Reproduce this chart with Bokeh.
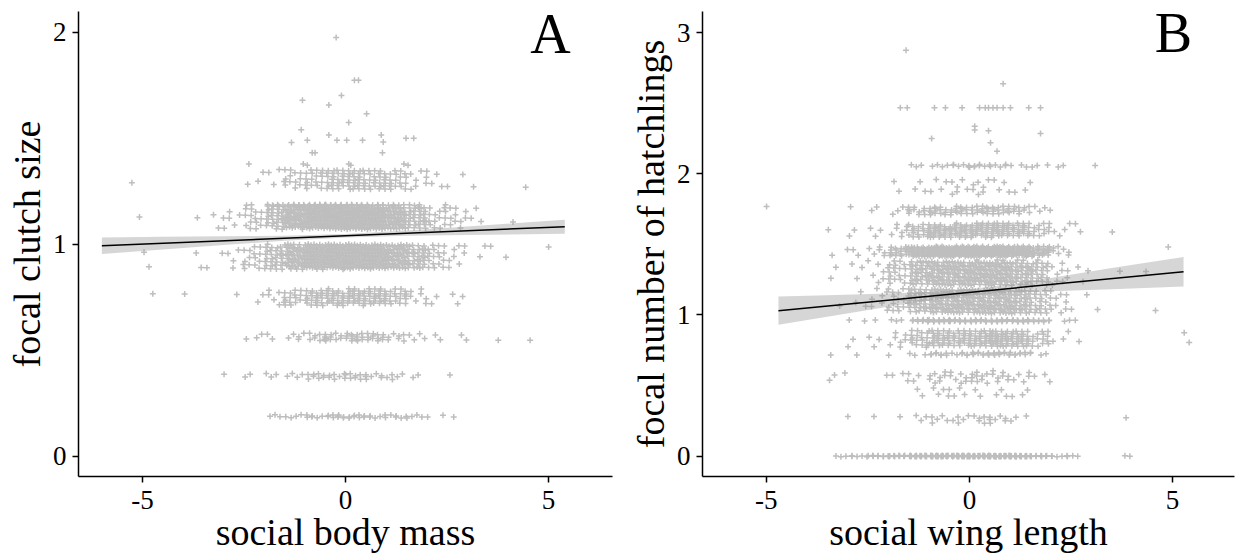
from bokeh.plotting import figure
from bokeh.layouts import row
from bokeh.models import Range1d, FixedTicker, Label
from bokeh.embed import file_html
from bokeh.resources import INLINE

FONT = "Liberation Serif"
PT_COLOR = "#BEBEBE"

# ---------------- shared x bins (width 0.5) ----------------
x_bins = [-6.0, -5.5, -5.0, -4.5, -4.0, -3.5, -3.0, -2.5, -2.0, -1.5, -1.0, -0.5,
          0.0, 0.5, 1.0, 1.5, 2.0, 2.5, 3.0, 3.5, 4.0, 4.5, 5.0, 5.5, 6.0]
x_ticks = [-5, 0, 5]
x_tick_labels = ["-5", "0", "5"]

# ---------------- Panel A: focal clutch size vs social body mass ----------------
a_row_y = [0.187, 0.376, 0.563, 0.750, 0.940, 1.125, 1.184, 1.305]
a_row_half = [0.008, 0.015, 0.020, 0.040, 0.060, 0.055, 0.003, 0.050]
a_row_counts = [
    [0,0,0,0,0,0,0,0,3,4,6,9,8,6,5,4,2,1,0,0,0,0,0,0],
    [0,0,0,0,0,0,1,2,3,4,8,7,8,6,5,2,0,1,0,0,0,0,0,0],
    [0,0,0,0,0,0,0,3,2,5,8,10,14,12,7,4,2,2,0,1,0,1,0,0],
    [0,0,1,0,1,0,1,2,7,14,22,25,27,25,17,7,2,3,0,0,0,0,0,0],
    [0,0,2,0,2,2,5,14,30,50,65,70,70,65,50,35,18,8,2,2,0,0,1,0],
    [0,1,0,0,1,3,5,14,30,55,70,78,78,70,50,30,14,10,3,0,1,0,0,0],
    [0,0,0,0,0,0,0,2,5,7,8,8,8,7,5,3,1,0,0,0,0,0,0,0],
    [0,1,0,0,0,0,0,3,4,12,18,25,27,22,17,7,4,2,1,0,1,0,0,0],
]
a_extra_x = [-2.38, -1.04, -0.94, 0.08, 0.13, 1.44, 1.54, -0.82, -0.75, 0.91,
             -1.33, -0.94, -0.41, -0.21, 0.03, 0.42, 0.88, 0.93, 1.49, 1.68,
             -1.09, 0.08, 0.52, -0.41, -1.06, -0.10, 0.22, 0.32, -0.23]
a_extra_y = [1.378, 1.378, 1.372, 1.378, 1.372, 1.378, 1.372, 1.432, 1.432, 1.432,
             1.480, 1.490, 1.515, 1.490, 1.490, 1.490, 1.515, 1.482, 1.500, 1.500,
             1.540, 1.574, 1.615, 1.657, 1.679, 1.702, 1.774, 1.774, 1.975]
a_fit_x = [-6.0, 5.4]
a_fit_y = [0.993, 1.082]
a_band_x = [-6.0, -4.5, -3.0, -1.5, 0.0, 1.5, 3.0, 4.5, 5.4]
a_band_lo = [0.954, 0.975, 0.996, 1.016, 1.032, 1.040, 1.043, 1.047, 1.049]
a_band_hi = [1.032, 1.035, 1.038, 1.040, 1.048, 1.064, 1.083, 1.103, 1.115]
a_y_ticks = [0, 1, 2]

# ---------------- Panel B: focal number of hatchlings vs social wing length ----------------
b_row_y = [0.000, 0.260, 0.450, 0.560, 0.724, 0.830, 0.958, 1.100, 1.300, 1.450, 1.600, 1.740, 1.900, 2.055]
b_row_half = [0.004, 0.030, 0.040, 0.045, 0.010, 0.060, 0.008, 0.090, 0.090, 0.035, 0.050, 0.030, 0.060, 0.012]
b_row_counts = [
    [0,0,0,0,0,3,5,8,12,20,25,25,25,25,20,10,6,2,0,2,0,0,0,0],
    [0,0,0,0,0,0,1,1,1,3,5,5,6,6,3,0,0,0,0,1,0,0,0,0],
    [0,0,0,0,0,0,0,0,0,2,4,4,2,3,3,0,0,0,0,0,0,0,0,0],
    [0,0,0,0,0,3,0,1,3,3,8,7,10,8,5,3,0,0,0,0,0,0,0,0],
    [0,0,0,0,0,1,1,0,1,3,8,6,10,10,8,3,0,0,0,0,0,0,0,0],
    [0,0,0,0,0,0,2,3,7,18,27,22,27,34,27,14,3,1,0,0,0,0,2,0],
    [0,0,0,0,0,0,2,1,3,10,12,12,12,12,12,8,2,1,0,0,0,0,0,0],
    [0,0,0,0,0,1,3,7,15,32,45,45,45,45,38,22,9,2,1,0,0,1,0,0],
    [0,0,0,0,0,2,3,7,18,35,45,45,48,48,38,26,9,3,0,1,1,0,0,0],
    [0,0,0,0,0,2,2,6,18,38,50,50,50,50,42,24,7,0,0,0,0,1,0,0],
    [0,0,0,0,0,1,2,3,7,18,27,27,30,30,22,12,4,2,0,1,0,0,0,0],
    [0,0,1,0,0,0,1,2,4,10,14,14,14,14,10,4,0,0,0,0,0,0,0,0],
    [0,0,0,0,0,0,0,0,2,3,4,6,7,4,3,0,0,0,0,0,0,0,0,0],
    [0,0,0,0,0,0,0,0,0,3,4,6,7,5,3,3,2,0,1,0,0,0,0,0],
]
b_extra_x = [-1.70, -1.53, -0.86, -0.59, -0.18, 0.25, 0.39, 0.47, 0.58, 0.68, 0.83, 1.01,
             1.46, 1.75, 0.13, 0.13, 0.47, 1.75, -0.93, 0.52, 0.68, 0.83, -1.56]
b_extra_y = [2.467, 2.467, 2.467, 2.467, 2.467, 2.467, 2.467, 2.467, 2.467, 2.467, 2.467, 2.467,
             2.467, 2.467, 2.336, 2.310, 2.305, 2.285, 2.250, 2.220, 2.160, 2.637, 2.875]
b_fit_x = [-4.7, 5.27]
b_fit_y = [1.030, 1.306]
b_band_x = [-4.7, -3.5, -2.0, -1.0, 0.0, 1.0, 2.0, 3.5, 5.27]
b_band_lo = [0.930, 0.987, 1.058, 1.102, 1.138, 1.158, 1.168, 1.182, 1.201]
b_band_hi = [1.130, 1.139, 1.152, 1.162, 1.182, 1.218, 1.262, 1.332, 1.411]
b_y_ticks = [0, 1, 2, 3]


def spread_points(row_y, row_half, row_counts, extra_x, extra_y):
    """Place each binned count inside its bin / row band (deterministic R2 fill)."""
    g1, g2 = 0.7548776662466927, 0.5698402909980532
    xs, ys = [], []
    for r, (yc, h, counts) in enumerate(zip(row_y, row_half, row_counts)):
        for i, n in enumerate(counts):
            lo, hi = x_bins[i], x_bins[i + 1]
            for k in range(n):
                s = k + 7 * i + 13 * r
                u = (0.5 + g1 * s) % 1.0
                v = (0.5 + g2 * s) % 1.0
                xs.append(lo + (hi - lo) * u)
                ys.append(yc + h * (2 * v - 1))
    xs += list(extra_x)
    ys += list(extra_y)
    return xs, ys


def style(p, yticks, xlabel, ylabel):
    p.xaxis.axis_label = xlabel
    p.yaxis.axis_label = ylabel
    p.xaxis.ticker = FixedTicker(ticks=x_ticks)
    p.yaxis.ticker = FixedTicker(ticks=yticks)
    p.xaxis.major_label_overrides = {t: s for t, s in zip(x_ticks, x_tick_labels)}
    for ax in (p.xaxis[0], p.yaxis[0]):
        ax.axis_line_color = "black"
        ax.axis_line_width = 1.5
        ax.major_tick_line_color = "black"
        ax.major_tick_line_width = 1.5
        ax.major_tick_in = 0
        ax.major_tick_out = 6
        ax.minor_tick_line_color = None
        ax.major_label_text_font = FONT
        ax.major_label_text_font_size = "27px"
        ax.major_label_text_color = "black"
        ax.axis_label_text_font = FONT
        ax.axis_label_text_font_size = "38px"
        ax.axis_label_text_font_style = "normal"
        ax.axis_label_text_color = "black"
    p.xaxis.major_label_standoff = 8
    p.yaxis.major_label_standoff = 6
    p.xaxis.axis_label_standoff = -1
    p.yaxis.axis_label_standoff = 2
    p.xgrid.visible = False
    p.ygrid.visible = False
    p.outline_line_color = None
    p.background_fill_color = "white"
    p.border_fill_color = "white"


def panel(xr, yr, fw, left, right, row_y, row_half, row_counts, ex, ey,
          fx, fy, bx, blo, bhi, yticks, xlabel, ylabel, letter, lx, ly):
    p = figure(frame_width=fw, frame_height=465, x_range=Range1d(*xr), y_range=Range1d(*yr),
               output_backend="svg", toolbar_location=None,
               min_border_left=left, min_border_right=right, min_border_top=11, min_border_bottom=0)
    xs, ys = spread_points(row_y, row_half, row_counts, ex, ey)
    p.scatter(x=xs, y=ys, marker="cross", size=6, line_color=PT_COLOR, line_width=1.5)
    p.varea(x=bx, y1=blo, y2=bhi, fill_color="#999999", fill_alpha=0.4)
    p.line(x=fx, y=fy, line_color="black", line_width=1.5)
    p.add_layout(Label(x=lx, y=ly, text=letter, text_font=FONT, text_font_size="56px",
                       text_align="center", text_baseline="top", text_color="black"))
    style(p, yticks, xlabel, ylabel)
    return p


pa = panel((-6.576, 6.576), (-0.0963, 2.098), 534, 78, 3,
           a_row_y, a_row_half, a_row_counts, a_extra_x, a_extra_y,
           a_fit_x, a_fit_y, a_band_x, a_band_lo, a_band_hi,
           a_y_ticks, "social body mass", "focal clutch size", "A", 5.05, 2.140)

pb = panel((-6.569, 6.524), (-0.1445, 3.149), 532, 87, 1,
           b_row_y, b_row_half, b_row_counts, b_extra_x, b_extra_y,
           b_fit_x, b_fit_y, b_band_x, b_band_lo, b_band_hi,
           b_y_ticks, "social wing length", "focal number of hatchlings", "B", 5.02, 3.213)

layout = row(pa, pb)
open("out.html", "w").write(file_html(layout, INLINE))
